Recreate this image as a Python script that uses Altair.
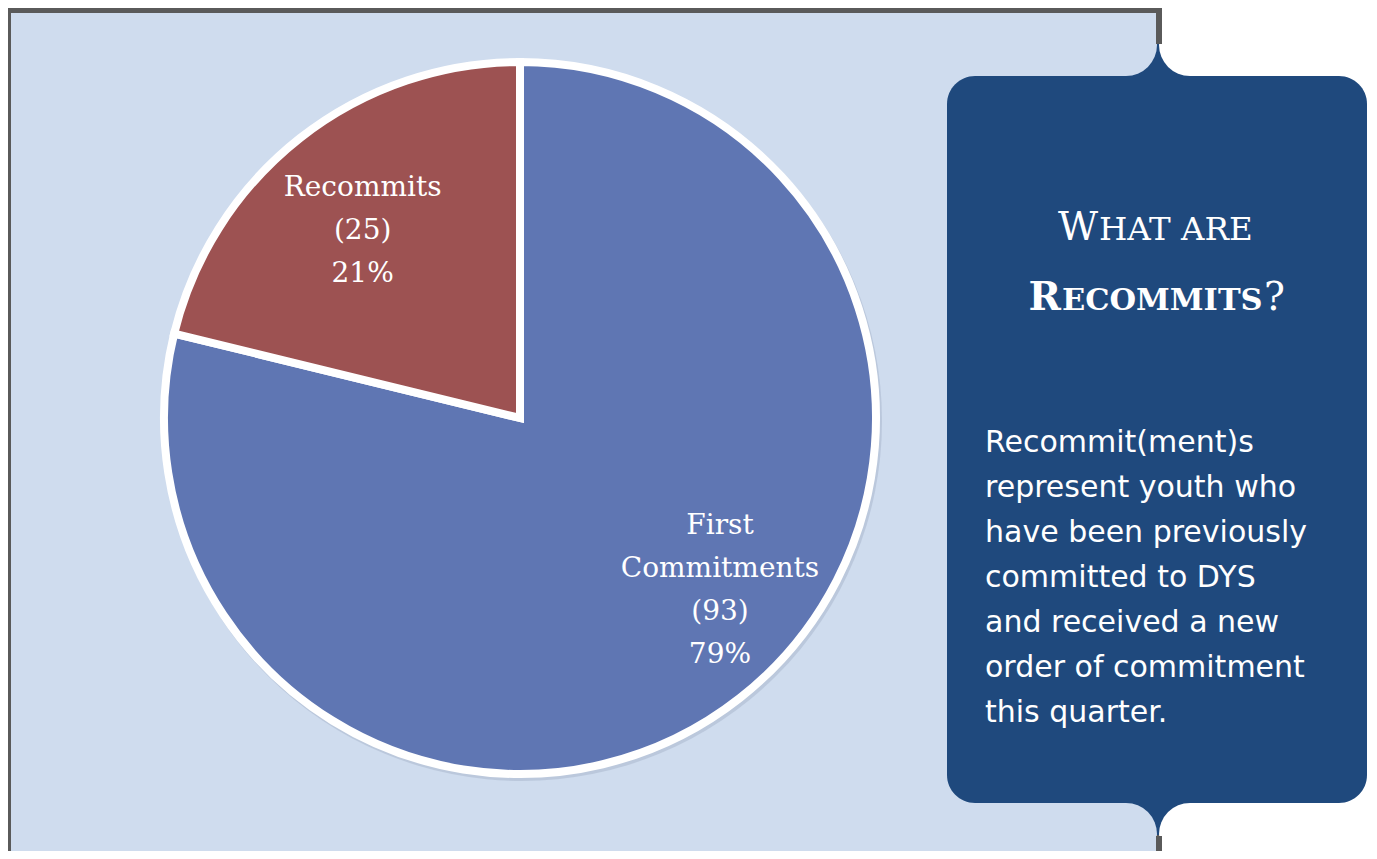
import math
import altair as alt
import pandas as pd

# ---- data ----
categories = ["First Commitments", "Recommits"]
label_lines = ["First\nCommitments", "Recommits"]
counts = [93, 25]
slice_colors = ["#5F76B3", "#9D5252"]

title_line1 = ["W", "HAT ARE"]
title_line2 = ["R", "ECOMMITS", "?"]
body_lines = [
    "Recommit(ment)s",
    "represent youth who",
    "have been previously",
    "committed to DYS",
    "and received a new",
    "order of commitment",
    "this quarter.",
]

total = sum(counts)
df = pd.DataFrame({
    "category": categories,
    "count": counts,
    "idx": list(range(len(categories))),
    "label": [f"{l}\n({c})\n{round(c / total * 100)}%" for l, c in zip(label_lines, counts)],
})

W, H = 1361, 843
OFF = 8  # page margin
one = alt.Data(values=[{"a": 1}])

LIGHT = "#CFDCEE"
DARK = "#1F497D"
GRAY = "#5A5A5A"


def px(v):
    return v - OFF


def rect(x1, y1, x2, y2, color, r=0):
    return alt.Chart(one).mark_rect(color=color, cornerRadius=r).encode(
        x=alt.value(px(x1)), x2=alt.value(px(x2)), y=alt.value(px(y1)), y2=alt.value(px(y2))
    )


def disc(cx, cy, r, color, opacity=1.0):
    return alt.Chart(one).mark_arc(
        color=color, outerRadius=r, theta=0, theta2=2 * math.pi, opacity=opacity
    ).encode(x=alt.value(px(cx)), y=alt.value(px(cy)))


def txt(x, y, s, size, align="left", weight="normal", font="DejaVu Serif"):
    return alt.Chart(one).mark_text(
        text=s, fontSize=size, align=align, baseline="alphabetic", fontWeight=weight,
        font=font, color="white"
    ).encode(x=alt.value(px(x)), y=alt.value(px(y)))


layers = []
# panel with gray border
layers.append(rect(5, 7, 1162, 880, GRAY, 3))
layers.append(rect(11, 13, 1156, 880, LIGHT))
# dark info box with brace points
layers.append(rect(947, 76, 1367, 803, DARK, 28))
layers.append(rect(1126, 44, 1190, 80, DARK))
layers.append(rect(1126, 800, 1190, 835, DARK))
layers.append(disc(1126, 45, 31, LIGHT))
layers.append(disc(1190, 45, 31, "white"))
layers.append(disc(1126, 834, 31, LIGHT))
layers.append(disc(1190, 834, 31, "white"))
layers.append(rect(1156, 7, 1162, 44, GRAY))
layers.append(rect(1156, 836, 1162, 880, GRAY))
layers.append(rect(11, 13, 1155, 44, LIGHT))

CX, CY = 520, 418
# soft shadow
layers.append(disc(CX + 2, CY + 3, 360, "#AEBBD0", 0.6))

theta_scale = alt.Scale(domain=[0, total], range=[0, 2 * math.pi])

pie = alt.Chart(df).mark_arc(outerRadius=356, stroke="white", strokeWidth=8).encode(
    theta=alt.Theta("count:Q", stack=True, scale=theta_scale),
    color=alt.Color("category:N", scale=alt.Scale(domain=categories, range=slice_colors), legend=None),
    order=alt.Order("idx:Q"),
    x=alt.value(px(CX)),
    y=alt.value(px(CY)),
)
layers.append(pie)

lab_base = alt.Chart(df).transform_window(
    cum="sum(count)", sort=[alt.SortField("idx")]
).transform_calculate(mid="datum.cum - datum.count / 2")

label_tweaks = {"Recommits": (237, -11, -44), "First Commitments": (259, 40, -96)}
for cat in categories:
    r, ddx, ddy = label_tweaks[cat]
    layers.append(
        lab_base.transform_filter(alt.datum.category == cat).mark_text(
            font="DejaVu Serif", fontSize=28, color="white", align="center",
            baseline="middle", lineBreak="\n", lineHeight=43, dx=ddx, dy=ddy
        ).encode(
            theta=alt.Theta("mid:Q", scale=theta_scale, stack=None),
            radius=alt.value(r),
            text="label:N",
            x=alt.value(px(CX)),
            y=alt.value(px(CY)),
        )
    )

# title in the dark box (small caps imitation)
layers.append(txt(1098, 240, title_line1[0], 39, align="right"))
layers.append(txt(1099, 240, title_line1[1], 32.5))
layers.append(txt(1061, 310, title_line2[0], 39, align="right", weight="bold"))
layers.append(txt(1062, 310, title_line2[1], 30.5, weight="bold"))
layers.append(txt(1264, 310, title_line2[2], 39))

# body text
for i, line in enumerate(body_lines):
    layers.append(txt(985, 452 + 45 * i, line, 30, font="DejaVu Sans"))

chart = alt.layer(*layers).properties(
    width=W, height=H, padding=0, autosize=alt.AutoSizeParams(type="none"),
    background="white"
).configure_view(stroke=None)

chart.save("out.html", embed_options={"renderer": "svg", "actions": False})
